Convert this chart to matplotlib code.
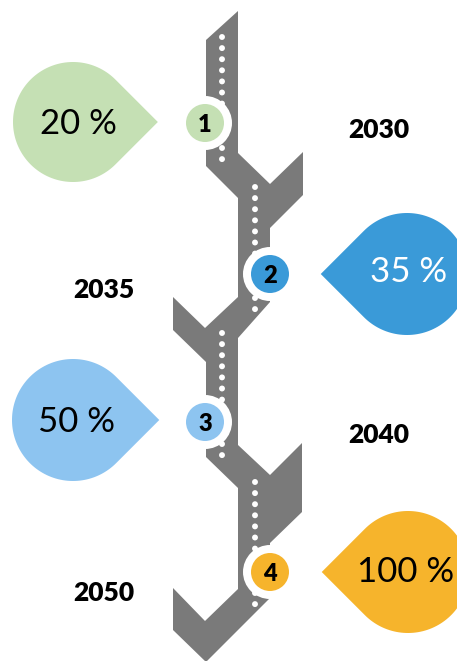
#!/usr/bin/env python3
"""
Road timeline infographic: four milestones with percentage drops
"""

import numpy as np
import matplotlib.pyplot as plt
from matplotlib.patches import Polygon, Circle

# Data
steps = ['1', '2', '3', '4']
years = ['2030', '2035', '2040', '2050']
percents = ['20 %', '35 %', '50 %', '100 %']
colors = ['#C5E0B4', '#3A9AD8', '#8DC4F0', '#F6B42C']
text_colors = ['black', 'white', 'black', 'black']

plt.rcParams['font.family'] = ['Lato', 'DejaVu Sans']

W, H = 457, 661
GRAY = '#7A7A7A'

# layout (pixel coordinates, y downwards)
step_xy = [(205, 123), (270, 274), (205, 422), (270, 572)]
drop_center = [(73, 122), (407, 274), (73, 420), (408, 572)]
drop_dir = [1, -1, 1, -1]        # +1: tip points right, -1: tip points left
drop_r = [60, 61, 61, 61]
drop_text_xy = [(78, 122), (409, 270), (77, 420), (406, 570)]
year_xy = [(379, 128), (104, 288), (379, 433), (104, 591)]

road_outline = [
    (206, 40), (238, 11), (238, 153), (270, 184), (303, 152), (303, 195),
    (270, 228), (270, 302), (238, 338), (238, 445), (270, 475), (302, 443),
    (302, 512), (270, 543), (270, 598), (206, 662), (173, 630), (173, 588),
    (205, 621), (238, 589), (238, 488), (206, 457), (206, 362), (173, 330),
    (173, 297), (205, 328), (238, 297), (238, 198), (206, 166),
]
# dotted centre line of each straight piece: (x, first y)
dot_runs = [(222, 37), (255, 187), (222, 333), (255, 482)]


def teardrop(cx, cy, r, direction, n=120):
    """Circle with a right-angle point, like the PowerPoint teardrop"""
    base = 0 if direction > 0 else np.pi
    ang = np.linspace(base + np.pi / 4, base + 7 * np.pi / 4, n)
    pts = [(cx + r * np.cos(a), cy + r * np.sin(a)) for a in ang]
    tip = (cx + direction * r * np.sqrt(2), cy)
    return [tip] + pts


fig = plt.figure(figsize=(W / 100, H / 100), dpi=100)
ax = fig.add_axes([0, 0, 1, 1])
ax.set_xlim(0, W)
ax.set_ylim(H, 0)
ax.axis('off')

# road
ax.add_patch(Polygon(road_outline, closed=True, facecolor=GRAY,
                     edgecolor='none', zorder=1))
for x, y0 in dot_runs:
    ys = y0 + 11.1 * np.arange(12)
    ax.scatter(np.full_like(ys, x), ys, s=18, color='white',
               edgecolors='none', zorder=2)

# milestones
for i, (x, y) in enumerate(step_xy):
    ax.add_patch(Circle((x, y), 27, facecolor='white', edgecolor='none', zorder=3))
    ax.add_patch(Circle((x, y), 19, facecolor=colors[i], edgecolor='none', zorder=4))
    ax.text(x, y + 2, steps[i], ha='center', va='center', fontsize=17,
            fontweight='heavy', color='black', zorder=5)

# percentage drops
for i in range(4):
    cx, cy = drop_center[i]
    ax.add_patch(Polygon(teardrop(cx, cy, drop_r[i], drop_dir[i]), closed=True,
                         facecolor=colors[i], edgecolor='none', zorder=1))
    tx, ty = drop_text_xy[i]
    ax.text(tx, ty + 2, percents[i], ha='center', va='center', fontsize=25,
            color=text_colors[i], zorder=2)

# years
for (x, y), label in zip(year_xy, years):
    ax.text(x, y + 2, label, ha='center', va='center', fontsize=19,
            fontweight='heavy', color='black')

plt.savefig('out.png', dpi=100)
